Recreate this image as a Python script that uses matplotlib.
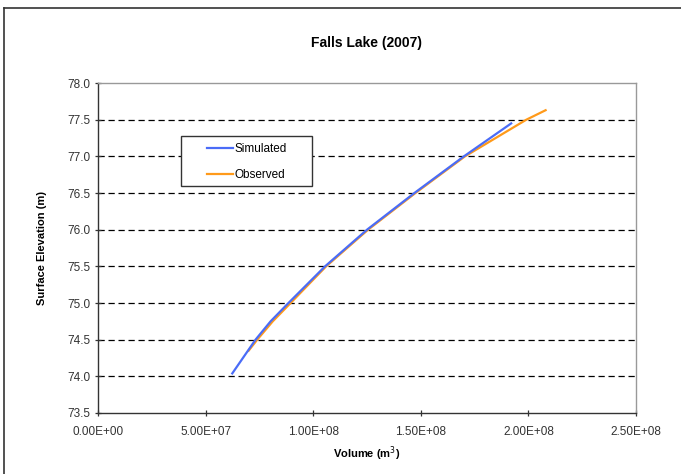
import matplotlib
matplotlib.use("Agg")
import matplotlib.pyplot as plt
from matplotlib.lines import Line2D
from matplotlib.patches import Rectangle

plt.rcParams["font.family"] = ["Liberation Sans", "DejaVu Sans"]

# values
sim_volume = [6.24e7, 7.32e7, 8.02e7, 8.85e7, 1.055e8, 1.25e8, 1.47e8, 1.70e8, 1.92e8]
sim_elev = [74.04, 74.5, 74.75, 75.0, 75.5, 76.0, 76.5, 77.0, 77.45]
obs_volume = [7.0e7, 7.4e7, 8.12e7, 8.95e7, 1.06e8, 1.255e8, 1.475e8, 1.705e8, 1.99e8, 2.08e8]
obs_elev = [74.35, 74.5, 74.75, 75.0, 75.5, 76.0, 76.5, 77.0, 77.5, 77.63]

x_ticks = [0, 5e7, 1e8, 1.5e8, 2e8, 2.5e8]
x_labels = ["0.00E+00", "5.00E+07", "1.00E+08", "1.50E+08", "2.00E+08", "2.50E+08"]
y_ticks = [73.5, 74.0, 74.5, 75.0, 75.5, 76.0, 76.5, 77.0, 77.5, 78.0]

fig = plt.figure(figsize=(6.81, 4.74), dpi=100)
ax = fig.add_axes([0.1439, 0.1287, 0.790, 0.696])

# outer chart frame (only top and left visible in the crop)
fig.add_artist(Line2D([4 / 681, 4 / 681], [0, 1 - 8 / 474], transform=fig.transFigure,
                      color="#333333", lw=1.2))
fig.add_artist(Line2D([4 / 681, 1], [1 - 8 / 474, 1 - 8 / 474], transform=fig.transFigure,
                      color="#333333", lw=1.2))

for y in y_ticks[1:-1]:
    ax.axhline(y, color="black", lw=0.9, ls=(0, (5, 3)), zorder=1)

ax.plot(sim_volume, sim_elev, color="#4a6cf7", lw=1.6, label="Simulated", zorder=3)
ax.plot(obs_volume, obs_elev, color="#ff9a1a", lw=1.6, label="Observed", zorder=2)

ax.set_xlim(0, 2.5e8)
ax.set_ylim(73.5, 78.0)
ax.set_xticks(x_ticks)
ax.set_xticklabels(x_labels)
ax.set_yticks(y_ticks)
ax.set_yticklabels([f"{v:.1f}" for v in y_ticks])
ax.tick_params(direction="inout", length=5, width=0.9, labelsize=8.5,
               colors="#333333")
ax.tick_params(axis="x", pad=7)
ax.tick_params(axis="y", pad=3)

for side in ["left", "bottom"]:
    ax.spines[side].set_color("#333333")
    ax.spines[side].set_linewidth(1.0)
for side in ["top", "right"]:
    ax.spines[side].set_color("#999999")
    ax.spines[side].set_linewidth(1.0)

ax.set_title("Falls Lake (2007)", fontsize=10, fontweight="bold", pad=26)
ax.set_xlabel("Volume (m$^3$)", fontsize=8, fontweight="bold")
ax.set_ylabel("Surface Elevation (m)", fontsize=8, fontweight="bold")
ax.xaxis.set_label_coords(0.5, -0.095)
ax.yaxis.set_label_coords(-0.095, 0.5)

# legend box is wider than its entries, so draw the frame separately
ax.add_patch(Rectangle((0.1543, 0.6879), 0.2435, 0.1515, transform=ax.transAxes,
                       facecolor="white", edgecolor="#333333", lw=1.0, zorder=4))
leg = ax.legend(loc="upper left", bbox_to_anchor=(0.2026, 0.818), fontsize=8.5,
                frameon=False, handlelength=2.2, handletextpad=0.1,
                labelspacing=1.15, borderpad=0, borderaxespad=0)
leg.set_zorder(5)

fig.savefig("out.png", dpi=100)
